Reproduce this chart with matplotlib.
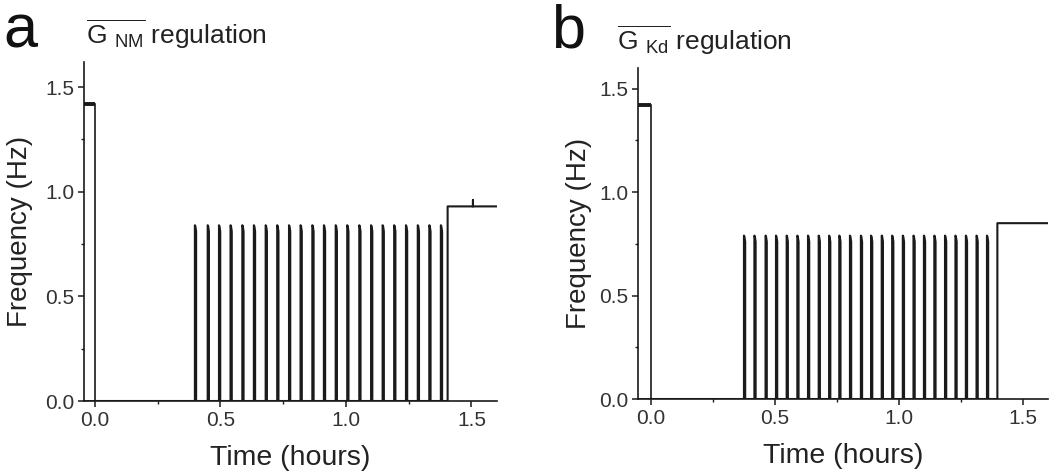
import numpy as np
import matplotlib
matplotlib.use("Agg")
import matplotlib.pyplot as plt
from matplotlib.ticker import MultipleLocator, FormatStrFormatter

plt.rcParams['font.family'] = ['Liberation Sans', 'DejaVu Sans']
plt.rcParams['mathtext.fontset'] = 'custom'
plt.rcParams['mathtext.rm'] = 'Liberation Sans'
plt.rcParams['mathtext.it'] = 'Liberation Sans'

ink = '#1a1a1a'

# panel a : G_NM regulation
a_plateau = 1.42
a_drop = 0.0
a_spike_t = [0.398, 0.449, 0.494, 0.540, 0.587, 0.633, 0.680, 0.726, 0.773, 0.819,
             0.866, 0.912, 0.959, 1.005, 1.053, 1.100, 1.146, 1.192, 1.239, 1.286,
             1.332, 1.378]
a_spike_h = 0.84
a_step_t = 1.405
a_step_level = 0.93
a_blip_t = 1.506
a_blip_h = 0.96

# panel b : G_Kd regulation
b_plateau = 1.42
b_drop = 0.0
b_spike_t = [0.375, 0.417, 0.462, 0.504, 0.547, 0.590, 0.633, 0.676, 0.718, 0.759,
             0.802, 0.846, 0.887, 0.930, 0.972, 1.015, 1.058, 1.100, 1.142, 1.185,
             1.227, 1.269, 1.312, 1.354]
b_spike_h = 0.79
b_step_t = 1.396
b_step_level = 0.85
b_blip_t = None
b_blip_h = None

t_end = 1.62
spike_w = 0.005


def trace(drop, spikes, h, step_t, step_level, blip_t, blip_h):
    xs = [drop, drop]
    ys = [0, 0]
    for t in spikes:
        xs += [t, t, t + spike_w * 0.4, t + spike_w, t + spike_w]
        ys += [0, h, h - 0.005, h - 0.03, 0]
    xs += [step_t, step_t]
    ys += [0, step_level]
    if blip_t is not None:
        xs += [blip_t, blip_t, blip_t]
        ys += [step_level, blip_h, step_level]
    xs += [t_end]
    ys += [step_level]
    return xs, ys


def panel(rect, xlim, ylim, plateau, drop, spikes, h, step_t, step_level,
          blip_t, blip_h, title, title_x, letter, letter_x, ypad):
    ax = fig.add_axes(rect)
    # initial plateau then fall to zero
    ax.plot([xlim[0], drop], [plateau, plateau], color=ink, lw=2.8,
            solid_capstyle='butt')
    ax.plot([drop, drop], [plateau, 0], color=ink, lw=1.2)
    xs, ys = trace(drop, spikes, h, step_t, step_level, blip_t, blip_h)
    ax.plot(xs, ys, color=ink, lw=1.5)
    ax.plot([xlim[0], drop], [0, 0], color=ink, lw=1.3)

    ax.set_xlim(*xlim)
    ax.set_ylim(*ylim)
    for s in ['top', 'right']:
        ax.spines[s].set_visible(False)
    for s in ['left', 'bottom']:
        ax.spines[s].set_linewidth(1.2)
        ax.spines[s].set_color(ink)
    ax.xaxis.set_major_locator(MultipleLocator(0.5))
    ax.xaxis.set_minor_locator(MultipleLocator(0.25))
    ax.yaxis.set_major_locator(MultipleLocator(0.5))
    ax.yaxis.set_minor_locator(MultipleLocator(0.25))
    ax.xaxis.set_major_formatter(FormatStrFormatter('%.1f'))
    ax.yaxis.set_major_formatter(FormatStrFormatter('%.1f'))
    ax.tick_params(which='major', length=4, width=1.1, labelsize=15, pad=3,
                   color=ink, labelcolor='#333333')
    ax.tick_params(which='minor', length=2.5, width=1.0, color=ink)
    ax.set_xlabel('Time (hours)', fontsize=20.5, color='#222222', labelpad=11)
    ax.set_ylabel('Frequency (Hz)', fontsize=20, color='#222222', labelpad=ypad)
    ax.set_title(title, fontsize=19, loc='left', color='#222222', pad=13,
                 x=title_x)
    fig.text(letter_x, 0.9, letter, fontsize=44, color='#111111')
    return ax


fig = plt.figure(figsize=(10.5, 4.73), dpi=100)

panel([0.080, 0.1522, 0.3933, 0.7167], (-0.0438, 1.6016), (0, 1.62),
      a_plateau, a_drop, a_spike_t, a_spike_h, a_step_t, a_step_level,
      a_blip_t, a_blip_h,
      r'$\overline{\mathrm{G\ }_{\mathrm{NM}}}$ regulation', 0.005, 'a', 0.003, 9)
panel([0.6076, 0.1564, 0.3905, 0.6998], (-0.052, 1.60), (0, 1.60),
      b_plateau, b_drop, b_spike_t, b_spike_h, b_step_t, b_step_level,
      b_blip_t, b_blip_h,
      r'$\overline{\mathrm{G\ }_{\mathrm{Kd}}}$ regulation', -0.05, 'b', 0.525, 5)

fig.savefig('out.png', dpi=100)
